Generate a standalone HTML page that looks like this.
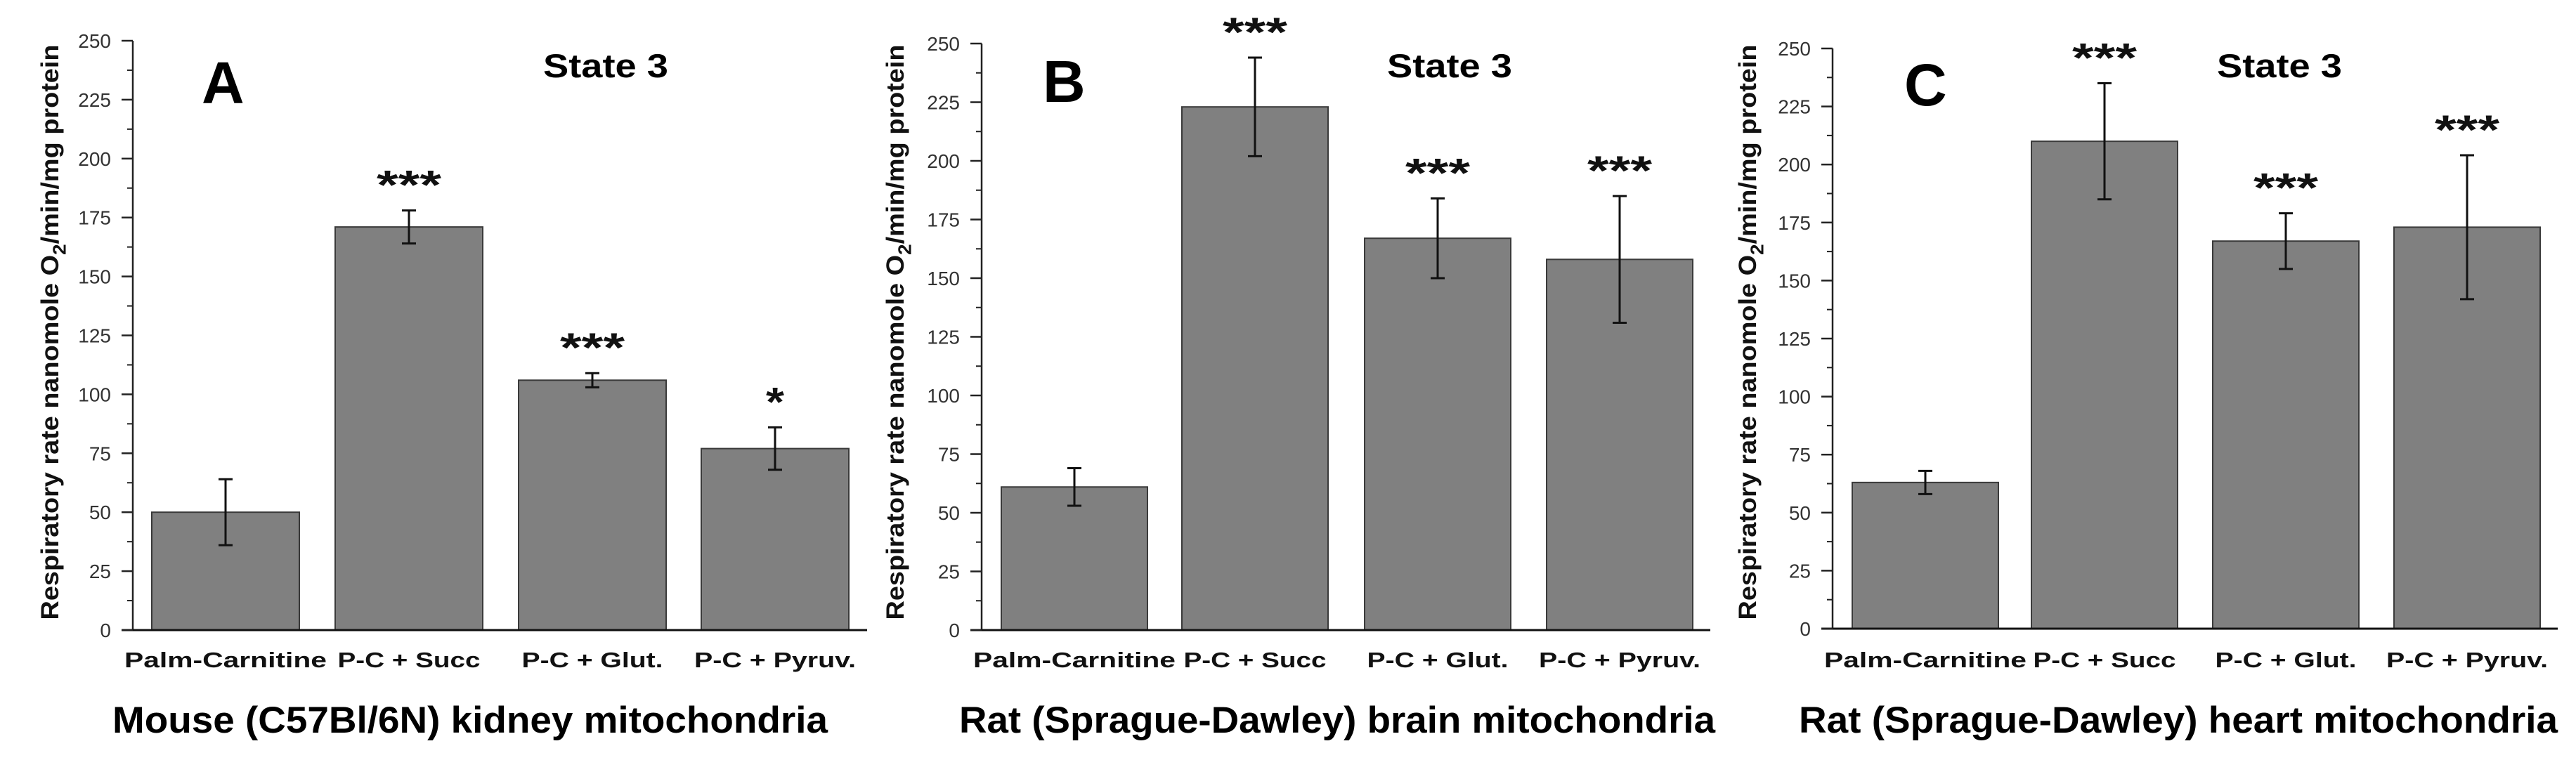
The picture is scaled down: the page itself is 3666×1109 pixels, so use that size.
<!DOCTYPE html>
<html><head><meta charset="utf-8"><style>
html,body{margin:0;padding:0;background:#fff;}
svg{display:block;font-family:"Liberation Sans",Arial,sans-serif;}
</style></head><body>
<svg id="fig" width="3666" height="1109" viewBox="0 0 3666 1109" xmlns="http://www.w3.org/2000/svg"></svg>
<script>
const categories = ["Palm-Carnitine", "P-C+Succ", "P-C+Glut.", "P-C+Pyruv."];
const yTicks = [0, 25, 50, 75, 100, 125, 150, 175, 200, 225, 250];
const meansA = [50, 171, 106, 77];
const errA = [14, 7, 3, 9];
const sigA = ["", "***", "***", "*"];
const meansB = [61, 223, 167, 158];
const errB = [8, 21, 17, 27];
const sigB = ["", "***", "***", "***"];
const meansC = [63, 210, 167, 173];
const errC = [5, 25, 12, 31];
const sigC = ["", "***", "***", "***"];
const letters = ["A", "B", "C"];
const titles = ["Mouse (C57Bl/6N) kidney mitochondria", "Rat (Sprague-Dawley) brain mitochondria", "Rat (Sprague-Dawley) heart mitochondria"];

const NS = "http://www.w3.org/2000/svg";
const svg = document.getElementById("fig");
function mk(tag, attrs, parent) {
  const e = document.createElementNS(NS, tag);
  for (const k in attrs) e.setAttribute(k, attrs[k]);
  (parent || svg).appendChild(e);
  return e;
}
const labelW = [288, 203, 201, 230];
const layouts = [
  {ax:189, y0:897, yTop:58, xEnd:1234, bars:[216,477,738,998], bw:210, ytx:83, letX:289, letY:147, stX:773, stY:110, titX:669, titW:1018},
  {ax:1397, y0:897, yTop:62, xEnd:2434, bars:[1425,1682,1942,2201], bw:208, ytx:1286, letX:1486, letY:145, stX:1974, stY:110, titX:1903, titW:1076},
  {ax:2608, y0:895, yTop:69, xEnd:3640, bars:[2636,2891,3149,3407], bw:208, ytx:2499, letX:2712, letY:150, stX:3155, stY:110, titX:3100, titW:1080}
];
const series = [[meansA, errA, sigA], [meansB, errB, sigB], [meansC, errC, sigC]];

layouts.forEach((L, p) => {
  const g = mk("g", {});
  
  
  const yS = v => L.y0 - (v / 250) * (L.y0 - L.yTop);
  const [means, errs, sigs] = series[p];

  means.forEach((m, i) => {
    const r = mk("rect", {x: L.bars[i], y: yS(m), width: L.bw, height: L.y0 - yS(m), fill: "#808080", stroke: "#3a3a3a", "stroke-width": 2}, g);
    
    
    const cx = L.bars[i] + L.bw / 2;
    const eg = mk("g", {stroke: "#111", "stroke-width": 3}, g);
    
    
    const top = yS(m + errs[i]), bot = yS(m - errs[i]);
    mk("line", {x1: cx, x2: cx, y1: top, y2: bot}, eg);
    mk("line", {x1: cx - 10, x2: cx + 10, y1: top, y2: top}, eg);
    mk("line", {x1: cx - 10, x2: cx + 10, y1: bot, y2: bot}, eg);
    if (sigs[i]) {
      const s = mk("text", {x: cx, y: top - 16, "text-anchor": "middle", "font-size": 58, "font-weight": "bold", fill: "#111", textLength: sigs[i].length === 3 ? 92 : 26, lengthAdjust: "spacingAndGlyphs"}, g);
      s.textContent = sigs[i];
      
      
    }
    const lbl = mk("text", {x: cx, y: 950, "text-anchor": "middle", "font-size": 31, "font-weight": "bold", fill: "#111", textLength: labelW[i], lengthAdjust: "spacingAndGlyphs"}, g);
    lbl.textContent = categories[i].replace("+", " + ");
    
    
  });

  const ay = mk("line", {x1: L.ax, x2: L.ax, y1: L.yTop, y2: L.y0, stroke: "#222", "stroke-width": 2.5}, g);
  
  
  const axx = mk("line", {x1: L.ax - 16, x2: L.xEnd, y1: L.y0, y2: L.y0, stroke: "#111", "stroke-width": 3}, g);
  
  
  yTicks.forEach((t, k) => {
    mk("line", {x1: L.ax - 16, x2: L.ax, y1: yS(t), y2: yS(t), stroke: "#222", "stroke-width": 2.5}, g);
    if (k < yTicks.length - 1) {
      const mv = t + 12.5;
      mk("line", {x1: L.ax - 8, x2: L.ax, y1: yS(mv), y2: yS(mv), stroke: "#222", "stroke-width": 2}, g);
    }
    const tl = mk("text", {x: L.ax - 31, y: yS(t) + 10, "text-anchor": "end", "font-size": 28, fill: "#333"}, g);
    tl.textContent = t;
    
    
  });

  const yt = mk("text", {x: 0, y: 0, "text-anchor": "middle", "font-size": 27, "font-weight": "bold", fill: "#111", textLength: 819, lengthAdjust: "spacingAndGlyphs", transform: `translate(${L.ytx},473) rotate(-90) scale(1,1.3)`}, g);
  yt.innerHTML = 'Respiratory rate nanomole O<tspan font-size="20" dy="8">2</tspan><tspan dy="-8">/min/mg protein</tspan>';
  
  

  const le = mk("text", {x: L.letX - 2, y: L.letY, "font-size": 84, "font-weight": "bold", fill: "#000"}, g);
  le.textContent = letters[p];
  
  
  const st = mk("text", {x: L.stX, y: L.stY, "font-size": 47, "font-weight": "bold", fill: "#000", textLength: 178, lengthAdjust: "spacingAndGlyphs"}, g);
  st.textContent = "State 3";
  
  
  const ti = mk("text", {x: L.titX, y: 1043, "text-anchor": "middle", "font-size": 53, "font-weight": "bold", fill: "#000", textLength: L.titW, lengthAdjust: "spacingAndGlyphs"}, g);
  ti.textContent = titles[p];
  
  
});
</script>
</body></html>
